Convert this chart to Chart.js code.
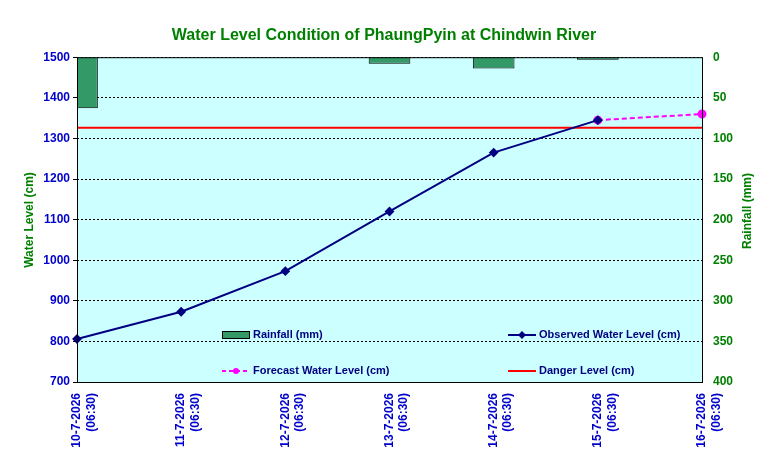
<!DOCTYPE html><html><head><script src="https://cdn.jsdelivr.net/npm/chart.js@4"></script>
<style>body{margin:0;background:#fff}#w{width:768px;height:467px;position:relative}</style></head><body><div id="w"><canvas id="c"></canvas></div>
<script>
const labels=[["10-7-2026","(06:30)"],["11-7-2026","(06:30)"],["12-7-2026","(06:30)"],["13-7-2026","(06:30)"],["14-7-2026","(06:30)"],["15-7-2026","(06:30)"],["16-7-2026","(06:30)"]];
const rainfall=[63,0,0,8,14,3,null];
const observed=[806,873,973,1120,1265,1345,null];
const forecast=[null,null,null,null,null,1345,1360];
const danger=[1326,1326,1326,1326,1326,1326,1326];
const F='Arial, "Liberation Sans", sans-serif';
const bg={id:'bg',beforeDraw(c){const a=c.chartArea,x=c.ctx;x.save();x.fillStyle='#ccffff';x.fillRect(a.left,a.top,a.right-a.left,a.bottom-a.top);x.restore();},
afterDraw(c){const a=c.chartArea,x=c.ctx;x.save();x.strokeStyle='#000';x.lineWidth=1;x.strokeRect(a.left+.5,a.top+.5,a.right-a.left,a.bottom-a.top);
x.font='bold 11px '+F;x.textBaseline='middle';
x.fillStyle='#339966';x.fillRect(222,331,27,7);x.strokeStyle='#000';x.strokeRect(222.5,331.5,27,7);
x.fillStyle='#000080';x.fillText('Rainfall (mm)',253,335);
x.strokeStyle='#000080';x.lineWidth=2;x.beginPath();x.moveTo(508,335);x.lineTo(536,335);x.stroke();
x.beginPath();x.moveTo(522,331);x.lineTo(526,335);x.lineTo(522,339);x.lineTo(518,335);x.closePath();x.fillStyle='#000080';x.fill();
x.fillText('Observed Water Level (cm)',539,335);
x.strokeStyle='#ff00ff';x.setLineDash([4,3]);x.beginPath();x.moveTo(222,371);x.lineTo(250,371);x.stroke();x.setLineDash([]);
x.fillStyle='#ff00ff';x.beginPath();x.arc(236,371,3,0,7);x.fill();x.fillStyle='#000080';x.fillText('Forecast Water Level (cm)',253,371);
x.strokeStyle='#ff0000';x.beginPath();x.moveTo(508,371);x.lineTo(536,371);x.stroke();x.fillText('Danger Level (cm)',539,371);
x.font='bold 12px '+F;x.fillStyle='#008000';x.textAlign='center';
x.save();x.translate(30,220);x.rotate(-Math.PI/2);x.fillText('Water Level (cm)',0,0);x.restore();
x.save();x.translate(748,211);x.rotate(-Math.PI/2);x.fillText('Rainfall (mm)',0,0);x.restore();
x.restore();}};
new Chart(document.getElementById('c'),{data:{labels,datasets:[
{type:'line',data:danger,borderColor:'#ff0000',borderWidth:2,pointRadius:0,yAxisID:'y',order:1},
{type:'line',data:observed,borderColor:'#000080',backgroundColor:'#000080',borderWidth:2,pointStyle:'rectRot',pointRadius:3.5,yAxisID:'y',order:0},
{type:'line',data:forecast,borderColor:'#ff00ff',backgroundColor:'#ff00ff',borderWidth:2,borderDash:[5,3],pointRadius:3.5,yAxisID:'y',order:0},
{type:'bar',data:rainfall,backgroundColor:'#339966',borderColor:'#000',borderWidth:1,barPercentage:0.4,categoryPercentage:1,yAxisID:'y1',order:2}]},
options:{responsive:true,maintainAspectRatio:false,animation:false,layout:{padding:0},
plugins:{legend:{display:false},tooltip:{enabled:false},title:{display:true,text:'Water Level Condition of PhaungPyin at Chindwin River',color:'#008000',font:{family:F,size:16,weight:'bold'},padding:{top:26,bottom:12}}},
scales:{x:{offset:false,grid:{display:false},border:{display:false},ticks:{color:'#0000cc',font:{family:F,size:12,weight:'bold'},minRotation:90,maxRotation:90,autoSkip:false},afterFit(s){s.height=85;}},
y:{position:'left',min:700,max:1500,ticks:{stepSize:100,color:'#0000cc',font:{family:F,size:12,weight:'bold'},callback:v=>String(v)},grid:{color:'#000',lineWidth:1,drawTicks:true,tickLength:4},border:{display:false,dash:[2,2]},afterFit(s){s.width=77;}},
y1:{position:'right',min:0,max:400,reverse:true,ticks:{stepSize:50,color:'#008000',font:{family:F,size:12,weight:'bold'}},grid:{display:false},border:{display:false},afterFit(s){s.width=66;}}}},
plugins:[bg]});
</script></body></html>
